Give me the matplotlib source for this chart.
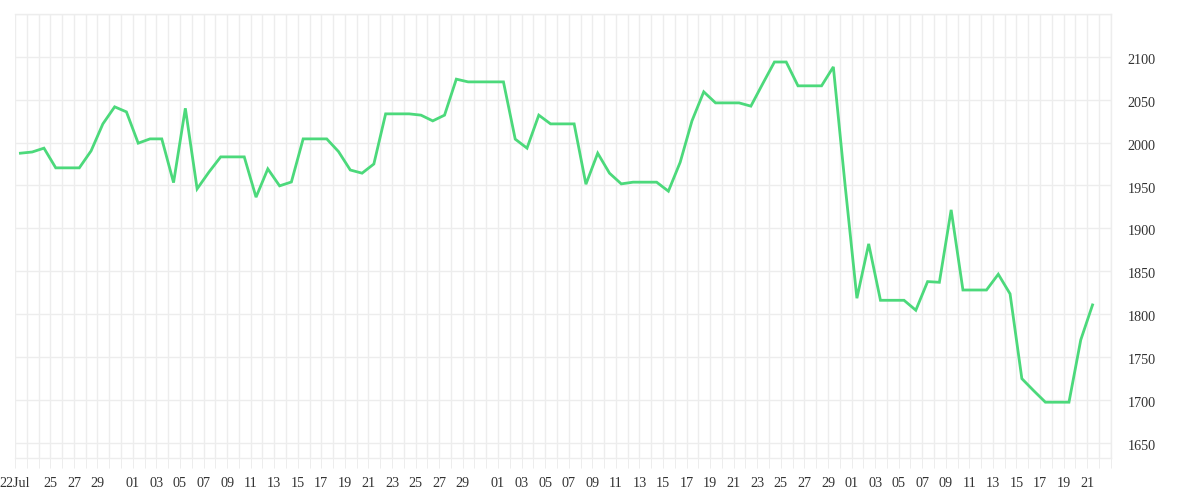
import pandas as pd
import matplotlib.pyplot as plt
import matplotlib.dates as mdates
from matplotlib.ticker import FixedLocator, NullFormatter
from matplotlib.transforms import ScaledTranslation

# daily values, 22 Jul -> 21 Oct
valores = [
    1987.6, 1989.0, 1993.5, 1970.5, 1970.5, 1970.5, 1990.3, 2021.8, 2041.7, 2035.8,
    1999.3, 2004.3, 2004.3, 1953.3, 2040.0, 1946.0, 1965.5, 1983.3, 1983.3, 1983.3,
    1936.3, 1969.3, 1949.5, 1954.0, 2004.3, 2004.3, 2004.3, 1989.5, 1968.0, 1964.3,
    1975.0, 2033.5, 2033.5, 2033.5, 2032.0, 2025.3, 2032.0, 2074.0, 2070.8, 2070.8,
    2070.8, 2070.8, 2004.0, 1993.5, 2032.0, 2021.8, 2021.8, 2021.8, 1951.4, 1987.6,
    1964.3, 1951.8, 1953.8, 1953.8, 1953.8, 1943.3, 1977.0, 2025.3, 2059.2, 2046.3,
    2046.3, 2046.3, 2042.5, 2068.5, 2094.0, 2094.0, 2066.2, 2066.2, 2066.2, 2088.3,
    1950.0, 1818.4, 1881.8, 1816.0, 1816.0, 1816.0, 1804.4, 1837.8, 1837.0, 1921.5,
    1828.0, 1828.0, 1828.0, 1846.4, 1823.5, 1724.6, 1710.6, 1697.1, 1697.1, 1697.1,
    1769.8, 1810.6,
]
datas = pd.date_range('2024-07-22 11:00', periods=len(valores), freq='D')

# tick labels
rotulos_dias = (['2024-07-22', '2024-07-25', '2024-07-27', '2024-07-29']
                + [f'2024-08-{d:02d}' for d in range(1, 30, 2)]
                + [f'2024-09-{d:02d}' for d in range(1, 30, 2)]
                + [f'2024-10-{d:02d}' for d in range(1, 22, 2)])
rotulos_y = [1650, 1700, 1750, 1800, 1850, 1900, 1950, 2000, 2050, 2100]

cor_grade = '#ededed'
cor_texto = '#333333'
cor_linha = '#4cd97b'

plt.rcParams['font.family'] = ['Liberation Serif', 'DejaVu Serif']

fig = plt.figure(figsize=(12, 5), dpi=100)
ax = fig.add_axes([15 / 1200, 1 - 458 / 500, (1110.7 - 15) / 1200, (458 - 14) / 500])

ax.plot(datas, valores, color=cor_linha, linewidth=2.0, solid_joinstyle='miter', zorder=3)

ax.set_xlim(pd.Timestamp('2024-07-22'), pd.Timestamp('2024-10-23'))
ax.set_ylim(1632, 2150)

# eixo x: grade diaria, rotulos em dias alternados
ticks_x = [mdates.date2num(pd.Timestamp(d)) for d in rotulos_dias]
textos_x = [pd.Timestamp(d).strftime('%d') for d in rotulos_dias]
textos_x[0] = '22Jul'
ax.xaxis.set_major_locator(FixedLocator(ticks_x))
ax.set_xticklabels(textos_x)
ax.xaxis.set_minor_locator(mdates.DayLocator())
ax.xaxis.set_minor_formatter(NullFormatter())

ax.yaxis.tick_right()
ax.set_yticks(rotulos_y)
ax.set_yticks([2150], minor=True)

ax.grid(True, which='both', color=cor_grade, linewidth=1.0)
ax.tick_params(axis='x', which='both', length=7.2, width=0.72, color=cor_grade,
               labelsize=10.2, labelcolor=cor_texto, pad=6.5)
ax.tick_params(axis='y', which='both', length=0, labelsize=10.2, labelcolor=cor_texto, pad=12)

desloc = ScaledTranslation(0, -2.2 / 100, fig.dpi_scale_trans)
for rotulo in ax.get_yticklabels():
    rotulo.set_transform(rotulo.get_transform() + desloc)

for lado in ['top', 'bottom', 'right']:
    ax.spines[lado].set_color(cor_grade)
    ax.spines[lado].set_linewidth(1.0)
ax.spines['left'].set_visible(False)

fig.savefig('out.png', dpi=100)
